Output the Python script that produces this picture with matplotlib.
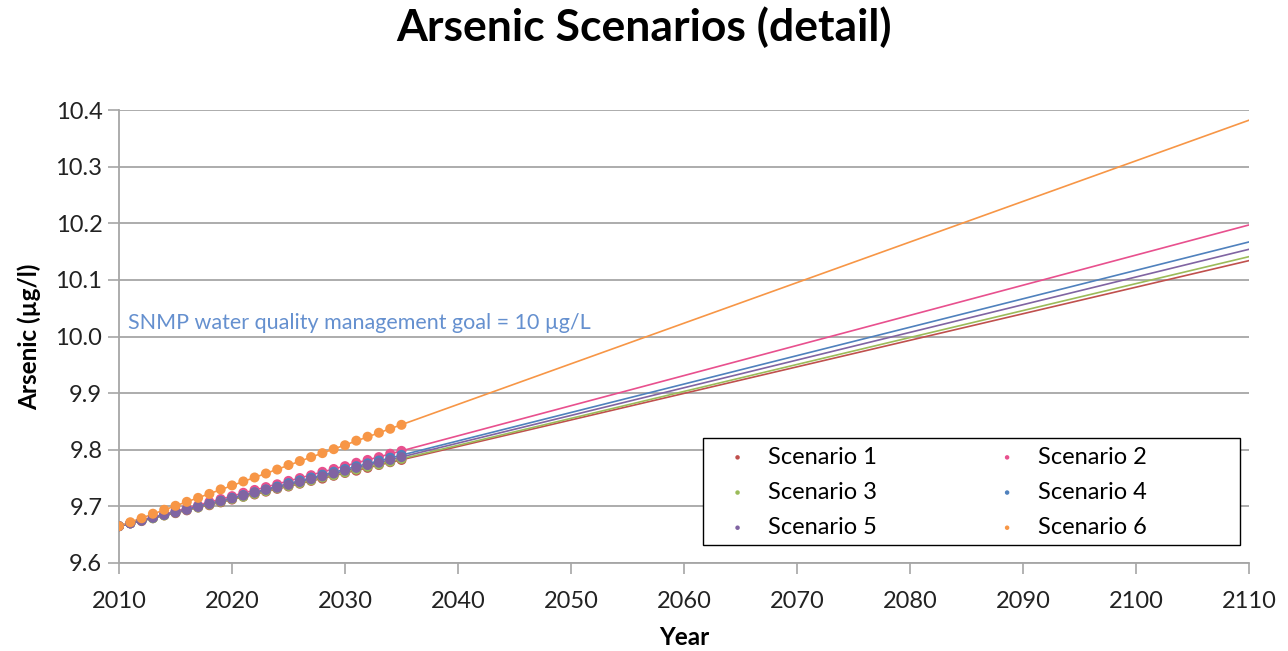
import numpy as np
import matplotlib
matplotlib.use("Agg")
import matplotlib.pyplot as plt
from matplotlib.patches import Rectangle

plt.rcParams['font.family'] = ['Lato', 'DejaVu Sans']

# yearly model values, 2010-2035
years = list(range(2010, 2036))
s1 = [9.665, 9.670, 9.674, 9.679, 9.684, 9.688, 9.693, 9.698, 9.702, 9.707, 9.712, 9.717, 9.721,
      9.726, 9.731, 9.735, 9.740, 9.745, 9.749, 9.754, 9.759, 9.763, 9.768, 9.773, 9.778, 9.782]
s2 = [9.665, 9.670, 9.676, 9.681, 9.686, 9.692, 9.697, 9.702, 9.708, 9.713, 9.718, 9.724, 9.729,
      9.734, 9.739, 9.745, 9.750, 9.755, 9.761, 9.766, 9.771, 9.777, 9.782, 9.787, 9.793, 9.798]
s3 = [9.665, 9.670, 9.675, 9.679, 9.684, 9.689, 9.694, 9.698, 9.703, 9.708, 9.713, 9.717, 9.722,
      9.727, 9.732, 9.736, 9.741, 9.746, 9.751, 9.755, 9.760, 9.765, 9.770, 9.774, 9.779, 9.784]
s4 = [9.665, 9.670, 9.675, 9.680, 9.685, 9.690, 9.695, 9.700, 9.705, 9.710, 9.715, 9.720, 9.725,
      9.730, 9.735, 9.741, 9.746, 9.751, 9.756, 9.761, 9.766, 9.771, 9.776, 9.781, 9.786, 9.791]
s5 = [9.665, 9.670, 9.675, 9.680, 9.685, 9.689, 9.694, 9.699, 9.704, 9.709, 9.714, 9.719, 9.724,
      9.729, 9.733, 9.738, 9.743, 9.748, 9.753, 9.758, 9.763, 9.768, 9.773, 9.777, 9.782, 9.787]
s6 = [9.665, 9.672, 9.679, 9.687, 9.694, 9.701, 9.708, 9.715, 9.722, 9.730, 9.737, 9.744, 9.751,
      9.758, 9.765, 9.773, 9.780, 9.787, 9.794, 9.801, 9.808, 9.816, 9.823, 9.830, 9.837, 9.844]

# linear trend lines, 2010 -> 2110
trend_years = [2010, 2110]
trend_start = [9.665, 9.665, 9.665, 9.665, 9.665, 9.665]
trend_end = [10.134, 10.197, 10.141, 10.167, 10.154, 10.382]

names = ["Scenario 1", "Scenario 2", "Scenario 3", "Scenario 4", "Scenario 5", "Scenario 6"]
colors = ["#C0504D", "#E8508E", "#9BBB59", "#4F81BD", "#8064A2", "#F79646"]
series = [s1, s2, s3, s4, s5, s6]

fig = plt.figure(figsize=(12.88, 6.51), dpi=100)
ax = fig.add_axes([0.0924, 0.1352, 0.8773, 0.6958])

handles = []
for i in range(6):
    ax.plot(trend_years, [trend_start[i], trend_end[i]], color=colors[i], lw=1.2, zorder=2)
for i in range(6):
    h = ax.scatter(years, series[i], s=52, color=colors[i], zorder=3 + i, label=names[i],
                   edgecolors='none')
    handles.append(h)

ax.set_xlim(2010, 2110)
ax.set_ylim(9.6, 10.4)
ax.set_xticks(np.arange(2010, 2111, 10))
ax.set_yticks(np.arange(9.6, 10.41, 0.1))
ax.set_yticklabels(["%.1f" % v for v in np.arange(9.6, 10.41, 0.1)])
ax.yaxis.grid(True, color="#A6A6A6", lw=1.3)
ax.set_axisbelow(True)
for side in ["top", "right"]:
    ax.spines[side].set_visible(False)
for side in ["left", "bottom"]:
    ax.spines[side].set_color("#A6A6A6")
    ax.spines[side].set_linewidth(1.3)
ax.tick_params(axis='both', labelsize=17, colors="#A6A6A6", labelcolor="#222222",
               length=8, width=1.2, direction='out')
ax.tick_params(axis='x', pad=12)
ax.tick_params(axis='y', pad=4)

ax.set_xlabel("Year", fontsize=17.5, fontweight='bold', labelpad=10)
ax.set_ylabel("Arsenic (µg/l)", fontsize=17.5, fontweight='bold', labelpad=10)
fig.suptitle("Arsenic Scenarios (detail)", fontsize=32, fontweight='bold', y=0.99)

ax.text(2010.8, 10.006, "SNMP water quality management goal = 10 µg/L",
        color="#6590CF", fontsize=15.5, va='bottom')

# legend box (wider than the entries, as in the original)
box = Rectangle((0.517, 0.0397), 0.475, 0.236, transform=ax.transAxes,
                facecolor='white', edgecolor='black', lw=1.0, zorder=20)
ax.add_patch(box)

order = [0, 2, 4, 1, 3, 5]
leg = ax.legend([handles[k] for k in order], [names[k] for k in order], ncol=2,
                loc='upper left', bbox_to_anchor=(0.5265, 0.257), fontsize=17,
                markerscale=0.45, frameon=False, columnspacing=4.5, handletextpad=0.3,
                labelspacing=0.6, borderpad=0.0, borderaxespad=0)
leg.set_zorder(21)

fig.savefig("out.png", dpi=100)
